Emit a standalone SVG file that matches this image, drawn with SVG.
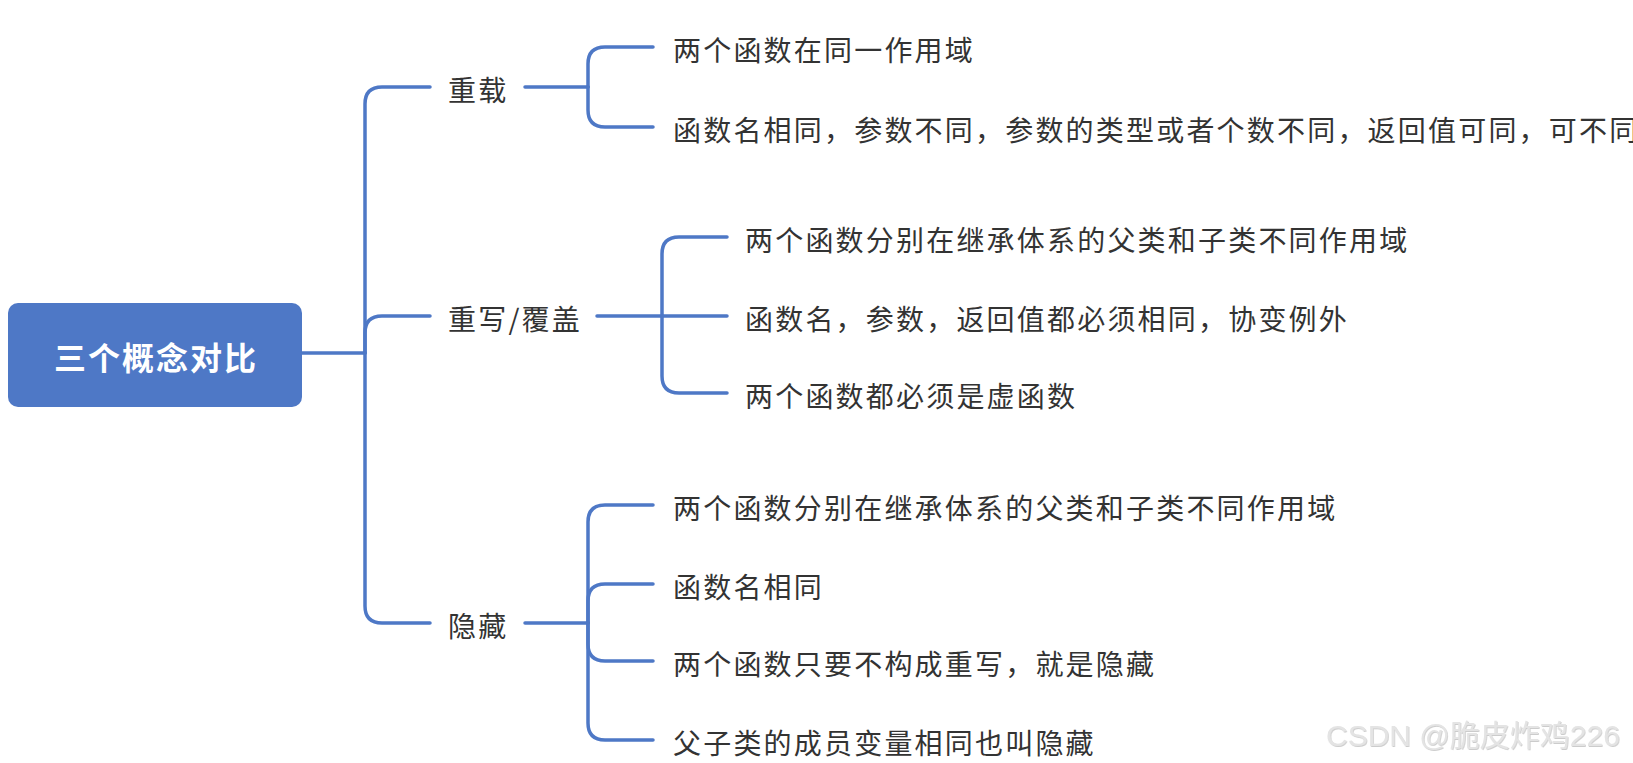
<svg xmlns="http://www.w3.org/2000/svg" width="1633" height="763" viewBox="0 0 1633 763">
<style>
.root{fill:#4e78c6}
.rt{font-family:"Noto Sans CJK SC","Noto Sans",sans-serif;font-size:32px;font-weight:bold;fill:#ffffff;letter-spacing:2px}
.t{font-family:"Noto Sans CJK SC","Noto Sans",sans-serif;font-size:28px;fill:#333333;letter-spacing:2.2px}
.c{fill:none;stroke:#4e78c6;stroke-width:3.5;stroke-linecap:round}
.wm{font-family:"Liberation Sans","Noto Sans CJK SC",sans-serif;font-size:30px;fill:#e4e4e4}
</style>
<defs>
<filter id="sh" x="-5%" y="-20%" width="110%" height="150%">
<feDropShadow dx="0.8" dy="1" stdDeviation="0.6" flood-color="#999999" flood-opacity="0.5"/>
</filter>
</defs>
<rect width="1633" height="763" fill="#ffffff"/>
<g id="connectors">
<path class="c" d="M302 353 H365"/>
<path class="c" d="M365 353 V104 Q365 87 382 87 H430"/>
<path class="c" d="M365 353 V333 Q365 316 382 316 H430"/>
<path class="c" d="M365 353 V606 Q365 623 382 623 H430"/>
<path class="c" d="M525 87 H588"/>
<path class="c" d="M588 87 V64 Q588 47 605 47 H653"/>
<path class="c" d="M588 87 V110 Q588 127 605 127 H653"/>
<path class="c" d="M597 316 H662"/>
<path class="c" d="M662 316 V254 Q662 237 679 237 H727"/>
<path class="c" d="M662 316 H727"/>
<path class="c" d="M662 316 V376 Q662 393 679 393 H727"/>
<path class="c" d="M525 623 H588"/>
<path class="c" d="M588 623 V522 Q588 505 605 505 H653"/>
<path class="c" d="M588 623 V601 Q588 584 605 584 H653"/>
<path class="c" d="M588 623 V644 Q588 661 605 661 H653"/>
<path class="c" d="M588 623 V723 Q588 740 605 740 H653"/>
</g>
<g id="root">
<rect class="root" x="8" y="303" width="294" height="104" rx="10"/>
<text class="rt" x="156" y="356" text-anchor="middle" dominant-baseline="central">三个概念对比</text>
</g>
<g id="n-overload"><text class="t" x="448" y="89" dominant-baseline="central">重载</text></g>
<g id="n-override"><text class="t" x="448" y="318" dominant-baseline="central">重写/覆盖</text></g>
<g id="n-hide"><text class="t" x="448" y="625" dominant-baseline="central">隐藏</text></g>
<g id="n-o1"><text class="t" x="673" y="49" dominant-baseline="central">两个函数在同一作用域</text></g>
<g id="n-o2"><text class="t" x="673" y="129" dominant-baseline="central">函数名相同，参数不同，参数的类型或者个数不同，返回值可同，可不同</text></g>
<g id="n-r1"><text class="t" x="745" y="239" dominant-baseline="central">两个函数分别在继承体系的父类和子类不同作用域</text></g>
<g id="n-r2"><text class="t" x="745" y="318" dominant-baseline="central">函数名，参数，返回值都必须相同，协变例外</text></g>
<g id="n-r3"><text class="t" x="745" y="395" dominant-baseline="central">两个函数都必须是虚函数</text></g>
<g id="n-h1"><text class="t" x="673" y="507" dominant-baseline="central">两个函数分别在继承体系的父类和子类不同作用域</text></g>
<g id="n-h2"><text class="t" x="673" y="586" dominant-baseline="central">函数名相同</text></g>
<g id="n-h3"><text class="t" x="673" y="663" dominant-baseline="central">两个函数只要不构成重写，就是隐藏</text></g>
<g id="n-h4"><text class="t" x="673" y="742" dominant-baseline="central">父子类的成员变量相同也叫隐藏</text></g>
<text class="wm" x="1326" y="746" filter="url(#sh)">CSDN @脆皮炸鸡226</text>
</svg>
